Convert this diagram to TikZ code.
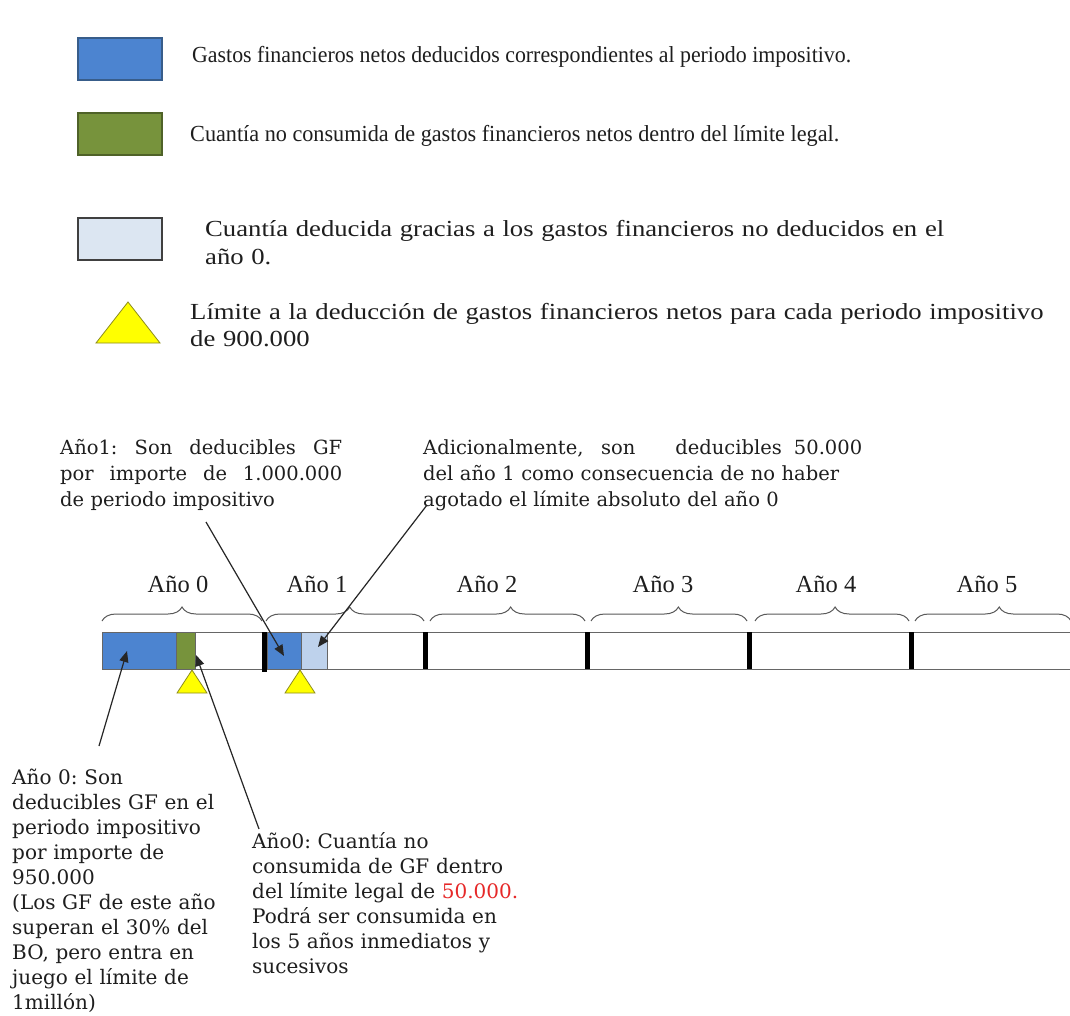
\documentclass[tikz,border=0pt]{standalone}
\usepackage{fontspec}
\setmainfont{Liberation Serif}
\newfontfamily\dvs{DejaVu Serif}
\newfontfamily\wideserif[FakeStretch=1.16]{Liberation Serif}
\newfontfamily\condserif[FakeStretch=0.95]{Liberation Serif}
\newfontfamily\condserifb[FakeStretch=0.965]{Liberation Serif}
\usetikzlibrary{decorations.pathreplacing,arrows.meta}
\definecolor{gfblue}{RGB}{76,132,208}
\definecolor{gfblueb}{RGB}{56,93,138}
\definecolor{gfgreen}{RGB}{119,147,60}
\definecolor{gfgreenb}{RGB}{79,98,40}
\definecolor{gflight}{RGB}{220,230,242}
\definecolor{gflightbar}{RGB}{190,210,236}
\definecolor{gfyellow}{RGB}{255,255,0}
\definecolor{gfyellowb}{RGB}{140,140,30}
\definecolor{gfred}{RGB}{230,40,40}
\definecolor{gftext}{RGB}{30,30,30}
\newcommand{\justline}[2]{\leavevmode\hbox to #1{#2}}
\newcommand{\gapw}[1]{\hskip 0pt plus #1fil\ }
\tikzset{
  legsq/.style={minimum width=84pt,minimum height=42pt,inner sep=0pt,line width=1.3pt},
  legtext/.style={font=\condserif\fontsize{23}{27.5}\selectfont,text=gftext,inner sep=0pt,anchor=base west,align=left},
  legwide/.style={font=\wideserif\fontsize{23}{27.5}\selectfont,text=gftext,inner sep=0pt,anchor=base west,align=left},
  yeartext/.style={font=\fontsize{24.5}{28}\selectfont,text=gftext,inner sep=0pt,anchor=base},
  anntext/.style={font=\dvs\fontsize{19.5}{26}\selectfont,text=gftext,inner sep=0pt,anchor=base west,align=left},
  bottext/.style={font=\dvs\fontsize{20}{25}\selectfont,text=gftext,inner sep=0pt,anchor=base west,align=left},
  yearbrace/.style={decorate,decoration={brace,amplitude=14pt,aspect=#1},draw=black!65,line width=1pt},
  seg/.style={draw=black!60,line width=0.6pt},
  sep/.style={line width=4.5pt,black},
  limtri/.style={fill=gfyellow,draw=gfyellowb,line width=0.8pt},
  ptr/.style={draw=black!85,line width=1.2pt,-{Triangle[length=11pt,width=9pt]}}
}
\begin{document}
\begin{tikzpicture}[x=1pt,y=-1pt]
\frenchspacing
\useasboundingbox (0,0) rectangle (1070,1016);
\fill[white] (0,0) rectangle (1070,1016);

% legend
\node[legsq,fill=gfblue,draw=gfblueb] (lblue) at (120,59) {};
\node[legtext] (tblue) at (192,63) {Gastos financieros netos deducidos correspondientes al periodo impositivo.};
\node[legsq,fill=gfgreen,draw=gfgreenb] (lgreen) at (120,134) {};
\node[legtext,font=\condserifb\fontsize{23}{27.5}\selectfont] (tgreen) at (190,142) {Cuantía no consumida de gastos financieros netos dentro del límite legal.};
\node[legsq,fill=gflight,draw=black!75] (llight) at (120,239) {};
\node[legwide,text width=820pt] (tlight) at (205,237) {Cuantía deducida gracias a los gastos financieros no deducidos en el\\año 0.};
\draw[limtri] (128,302) -- (160,343) -- (96,343) -- cycle;
\node[legwide,text width=880pt] (ttri) at (190,319) {Límite a la deducción de gastos financieros netos para cada periodo impositivo\\de 900.000};

% annotations above
\node[anntext,text width=282pt] (a1) at (60,454) {\justline{282pt}{Año1:\hfil Son\hfil deducibles\hfil GF}\\\justline{282pt}{por\hfil importe\hfil de\hfil 1.000.000}\\de periodo impositivo};
\node[anntext,text width=439pt] (a2) at (423,454) {\justline{439pt}{Adicionalmente,\gapw{1}son\gapw{3}deducibles\gapw{0.5}50.000}\\\justline{439pt}{del año 1 como consecuencia de no haber}\\agotado el límite absoluto del año 0};

% year labels and braces
\foreach \i/\xa/\xb/\asp/\lx in {0/102/262/0.5/178,1/266/424/0.53/317,2/430/585/0.52/487,3/591/747/0.56/663,4/755/909/0.52/826,5/915/1071/0.54/987}{
  \draw[yearbrace=\asp] (\xa,621) -- (\xb,621);
  \node[yeartext] (y\i) at (\lx,592) {Año \i};
}

% bar
\draw[seg,fill=white] (102,632) rectangle (1085,669);
\fill[gfblue] (102,632) rectangle (176,669);
\draw[seg] (102,632) rectangle (176,669);
\fill[gfgreen] (176,632) rectangle (195,669);
\draw[seg] (176,632) rectangle (195,669);
\fill[gfblue] (267,632) rectangle (301,669);
\draw[seg] (267,632) rectangle (301,669);
\fill[gflightbar] (301,632) rectangle (327,669);
\draw[seg] (301,632) rectangle (327,669);
\draw[sep] (264.5,632) -- (264.5,672);
\foreach \x in {425.5,587.5,749.5,911.5}{\draw[sep] (\x,632) -- (\x,669);}
\draw[limtri] (192,670) -- (207,693) -- (177,693) -- cycle;
\draw[limtri] (300,670) -- (315,693) -- (285,693) -- cycle;

% bottom texts
\node[bottext,text width=250pt] (b1) at (12,784) {Año 0: Son\\deducibles GF en el\\periodo impositivo\\por importe de\\950.000\\(Los GF de este año\\superan el 30\% del\\BO, pero entra en\\juego el límite de\\1millón)};
\node[bottext,text width=300pt] (b2) at (252,848) {Año0: Cuantía no\\consumida de GF dentro\\del límite legal de \textcolor{gfred}{50.000.}\\Podrá ser consumida en\\los 5 años inmediatos y\\sucesivos};

% connectors
\coordinate (s1) at (206,522);
\coordinate (e1) at (284,656);
\coordinate (s2) at (427,505);
\coordinate (e2) at (318,647);
\coordinate (s3) at (99,746);
\coordinate (e3) at (127,651);
\coordinate (s4) at (259,829);
\coordinate (e4) at (196,655);
\draw[ptr] (s1) -- (e1);
\draw[ptr] (s2) -- (e2);
\draw[ptr] (s3) -- (e3);
\draw[ptr] (s4) -- (e4);
\end{tikzpicture}
\end{document}
